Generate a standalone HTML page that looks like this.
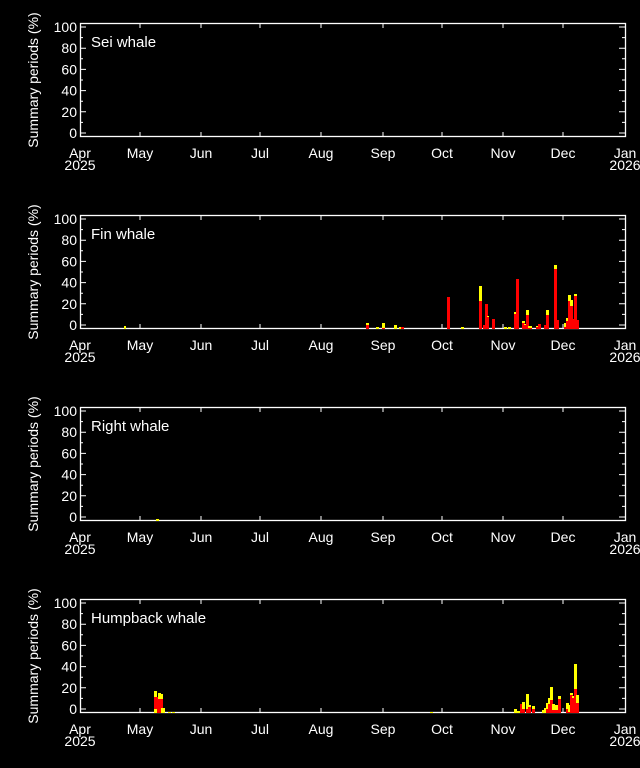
<!DOCTYPE html>
<html><head><meta charset="utf-8"><style>
html,body{margin:0;padding:0;background:#000;}
svg{display:block;font-family:"Liberation Sans",sans-serif;}
text{fill:#fff;font-size:14px;}
</style></head><body>
<svg width="640" height="768" xmlns="http://www.w3.org/2000/svg">
<defs>
<g id="ax">
<rect x="80.5" y="23.5" width="545" height="113" fill="none" stroke="#fff" stroke-width="1.3"/>
<g stroke="#fff" stroke-width="1">
<path d="M80 133h6M80 111.8h6M80 90.6h6M80 69.4h6M80 48.2h6M80 27h6M80 122.4h3M80 101.2h3M80 80h3M80 58.8h3M80 37.6h3"/>
<path d="M625 133h-6M625 111.8h-6M625 90.6h-6M625 69.4h-6M625 48.2h-6M625 27h-6M625 122.4h-3M625 101.2h-3M625 80h-3M625 58.8h-3M625 37.6h-3"/>
<path d="M140 137v-5M201 137v-5M260 137v-5M321 137v-5M383 137v-5M442 137v-5M503 137v-5M563 137v-5"/>
<path d="M140 23v5M201 23v5M260 23v5M321 23v5M383 23v5M442 23v5M503 23v5M563 23v5"/>
</g>
<g text-anchor="end">
<text x="77" y="138">0</text><text x="77" y="116.8">20</text><text x="77" y="95.6">40</text><text x="77" y="74.4">60</text><text x="77" y="53.2">80</text><text x="77" y="32">100</text>
</g>
<text transform="translate(38,80) rotate(-90)" text-anchor="middle">Summary periods (%)</text>
<g text-anchor="middle">
<text x="80" y="158">Apr</text><text x="80" y="170">2025</text>
<text x="140" y="158">May</text><text x="201" y="158">Jun</text><text x="260" y="158">Jul</text><text x="321" y="158">Aug</text><text x="383" y="158">Sep</text><text x="442" y="158">Oct</text><text x="503" y="158">Nov</text><text x="563" y="158">Dec</text>
<text x="625" y="158">Jan</text><text x="625" y="170">2026</text>
</g>
</g>
</defs>

<use href="#ax"/>
<text x="91" y="47" style="font-size:15px">Sei whale</text>

<g transform="translate(0,192)"><use href="#ax"/><text x="91" y="47" style="font-size:15px">Fin whale</text></g>
<g transform="translate(0,384)"><use href="#ax"/><text x="91" y="47" style="font-size:15px">Right whale</text></g>
<g transform="translate(0,576)"><use href="#ax"/><text x="91" y="47" style="font-size:15px">Humpback whale</text></g>

<!-- Fin whale bars, baseline 329 -->
<g>
<rect x="124" y="326" width="2" height="3" fill="#ff0"/>
<rect x="366" y="323" width="3" height="6" fill="#ff0"/><rect x="366" y="325" width="3" height="4" fill="#f00"/>
<rect x="376" y="327" width="3" height="2" fill="#ff0"/>
<rect x="382" y="323" width="3" height="6" fill="#ff0"/><rect x="382" y="328" width="3" height="1" fill="#f00"/>
<rect x="394" y="325" width="3" height="4" fill="#ff0"/>
<rect x="399" y="327" width="2" height="2" fill="#ff0"/>
<rect x="401" y="327" width="3" height="2" fill="#f00"/>
<rect x="447" y="297" width="3" height="32" fill="#f00"/>
<rect x="461" y="327" width="3" height="2" fill="#ff0"/>
<rect x="479" y="286" width="3" height="43" fill="#ff0"/><rect x="479" y="301" width="3" height="28" fill="#f00"/>
<rect x="483" y="325" width="2" height="4" fill="#f00"/>
<rect x="485" y="304" width="3" height="25" fill="#f00"/>
<rect x="487" y="316" width="2" height="13" fill="#ff0"/><rect x="487" y="317" width="2" height="12" fill="#f00"/>
<rect x="492" y="319" width="3" height="10" fill="#f00"/>
<rect x="504" y="327" width="3" height="2" fill="#ff0"/>
<rect x="508" y="327" width="3" height="2" fill="#ff0"/>
<rect x="514" y="312" width="2" height="17" fill="#ff0"/><rect x="514" y="314" width="2" height="15" fill="#f00"/>
<rect x="516" y="279" width="3" height="50" fill="#f00"/>
<rect x="522" y="321" width="3" height="8" fill="#ff0"/><rect x="522" y="323" width="3" height="6" fill="#f00"/>
<rect x="524" y="324" width="2" height="5" fill="#ff0"/><rect x="524" y="325" width="2" height="4" fill="#f00"/>
<rect x="526" y="310" width="3" height="19" fill="#ff0"/><rect x="526" y="315" width="3" height="14" fill="#f00"/>
<rect x="528" y="326" width="4" height="3" fill="#ff0"/><rect x="528" y="328" width="4" height="1" fill="#f00"/>
<rect x="536" y="326" width="2" height="3" fill="#ff0"/><rect x="536" y="327" width="2" height="2" fill="#f00"/>
<rect x="538" y="324" width="3" height="5" fill="#f00"/>
<rect x="544" y="325" width="2" height="4" fill="#f00"/>
<rect x="546" y="310" width="3" height="19" fill="#ff0"/><rect x="546" y="315" width="3" height="14" fill="#f00"/>
<rect x="554" y="265" width="3" height="64" fill="#ff0"/><rect x="554" y="269" width="3" height="60" fill="#f00"/>
<rect x="557" y="320" width="2" height="9" fill="#f00"/>
<rect x="564" y="323" width="2" height="6" fill="#ff0"/><rect x="564" y="327" width="2" height="2" fill="#f00"/>
<rect x="566" y="318" width="2" height="11" fill="#ff0"/><rect x="566" y="321" width="2" height="8" fill="#f00"/>
<rect x="568" y="295" width="3" height="34" fill="#ff0"/><rect x="568" y="301" width="3" height="28" fill="#f00"/>
<rect x="570" y="300" width="3" height="29" fill="#ff0"/><rect x="570" y="306" width="3" height="23" fill="#f00"/>
<rect x="573" y="319" width="1" height="10" fill="#f00"/>
<rect x="574" y="294" width="3" height="35" fill="#ff0"/><rect x="574" y="296" width="3" height="33" fill="#f00"/>
<rect x="577" y="320" width="2" height="9" fill="#f00"/>
</g>

<!-- Right whale -->
<rect x="156" y="519" width="3" height="2" fill="#ff0"/>

<!-- Humpback bars, baseline 713 -->
<g>
<rect x="154" y="691" width="3" height="22" fill="#ff0"/><rect x="154" y="697" width="3" height="12" fill="#f00"/>
<rect x="157" y="697" width="1" height="16" fill="#f00"/>
<rect x="158" y="693" width="3" height="20" fill="#ff0"/><rect x="158" y="699" width="3" height="14" fill="#f00"/>
<rect x="161" y="694" width="2" height="19" fill="#ff0"/><rect x="161" y="699" width="2" height="9" fill="#f00"/>
<rect x="163" y="708" width="2" height="5" fill="#ff0"/>
<rect x="168" y="712" width="3" height="1" fill="#ff0"/>
<rect x="172" y="712" width="3" height="1" fill="#ff0"/>
<rect x="430" y="712" width="3" height="1" fill="#ff0"/>
<rect x="514" y="709" width="3" height="4" fill="#ff0"/>
<rect x="517" y="711" width="3" height="2" fill="#ff0"/>
<rect x="520" y="704" width="2" height="9" fill="#f00"/>
<rect x="522" y="702" width="3" height="11" fill="#ff0"/><rect x="522" y="709" width="3" height="4" fill="#f00"/>
<rect x="526" y="694" width="3" height="19" fill="#ff0"/><rect x="526" y="709" width="3" height="4" fill="#f00"/>
<rect x="528" y="705" width="3" height="8" fill="#ff0"/><rect x="528" y="707" width="3" height="6" fill="#f00"/>
<rect x="532" y="706" width="3" height="7" fill="#ff0"/><rect x="532" y="709" width="3" height="4" fill="#f00"/>
<rect x="542" y="710" width="3" height="3" fill="#ff0"/>
<rect x="544" y="708" width="2" height="5" fill="#ff0"/>
<rect x="546" y="703" width="2" height="10" fill="#ff0"/><rect x="546" y="709" width="2" height="4" fill="#f00"/>
<rect x="548" y="698" width="2" height="15" fill="#ff0"/><rect x="548" y="704" width="2" height="9" fill="#f00"/>
<rect x="550" y="687" width="3" height="26" fill="#ff0"/><rect x="550" y="700" width="3" height="13" fill="#f00"/>
<rect x="552" y="704" width="3" height="9" fill="#ff0"/><rect x="552" y="710" width="3" height="3" fill="#f00"/>
<rect x="555" y="705" width="3" height="8" fill="#ff0"/><rect x="555" y="710" width="3" height="3" fill="#f00"/>
<rect x="558" y="696" width="3" height="17" fill="#ff0"/><rect x="558" y="699" width="3" height="14" fill="#f00"/>
<rect x="566" y="703" width="3" height="10" fill="#ff0"/><rect x="566" y="709" width="3" height="4" fill="#f00"/>
<rect x="568" y="705" width="2" height="8" fill="#ff0"/><rect x="568" y="712" width="2" height="1" fill="#f00"/>
<rect x="570" y="693" width="3" height="20" fill="#ff0"/><rect x="570" y="695" width="3" height="18" fill="#f00"/>
<rect x="572" y="696" width="2" height="17" fill="#f00"/><rect x="572" y="696" width="2" height="2" fill="#ff0"/>
<rect x="574" y="664" width="3" height="49" fill="#ff0"/><rect x="574" y="689" width="3" height="24" fill="#f00"/>
<rect x="576" y="695" width="3" height="18" fill="#ff0"/><rect x="576" y="703" width="3" height="10" fill="#f00"/>
</g>
</svg>
</body></html>
